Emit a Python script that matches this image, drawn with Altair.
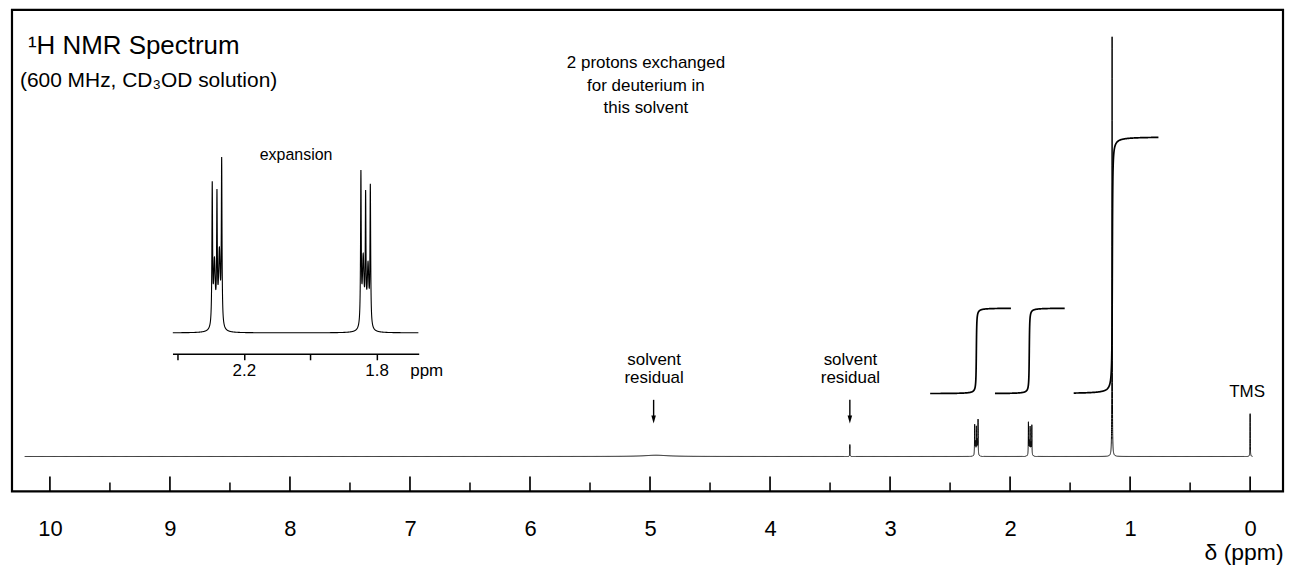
import numpy as np
import pandas as pd
import altair as alt

# ---------------- data ----------------
# peak list: position (ppm), height (relative units, 1.15 ppm singlet = 100), half-width (ppm)
peak_ppm = [2.2952, 2.2886, 2.2810, 2.2737, 2.2668,
            1.8472, 1.8403, 1.8330, 1.8257, 1.8188,
            1.150, 3.335, 0.000, 4.950]
peak_height = [7.0, 3.3, 6.2, 3.8, 8.2,
               7.6, 3.5, 6.2, 3.1, 6.95,
               100.0, 2.85, 10.2, 0.3]
peak_hwhm = [0.0012, 0.0030, 0.0012, 0.0030, 0.0012,
             0.0012, 0.0030, 0.0012, 0.0030, 0.0012,
             0.0012, 0.0012, 0.0012, 0.12]
spec_range = [10.21, -0.02]

# integral traces: region start/end (ppm), step centre (ppm), protons
int_start = [2.666, 2.126, 1.470]
int_end = [1.993, 1.545, 0.764]
int_center = [2.281, 1.840, 1.148]
int_protons = [2, 2, 6]
int_base = 14.96
int_per_H = 10.2
int_width = 0.0025

# axis ticks
major_ticks = [0, 1, 2, 3, 4, 5, 6, 7, 8, 9, 10]
minor_ticks = [0.5, 1.5, 2.5, 3.5, 4.5, 5.5, 6.5, 7.5, 8.5, 9.5]
inset_ticks = [2.4, 2.2, 2.0, 1.8]
inset_range_ppm = [2.415, 1.673]

# annotations (text, ppm, level)
left_texts = ["\u00b9H NMR Spectrum", "(600 MHz, CD\u2083OD solution)"]
left_ppm = [10.183, 10.25]
left_v = [97.86, 89.55]
left_size = [26, 21]

center_texts = ["2 protons exchanged", "for deuterium in", "this solvent",
                "solvent", "residual", "solvent", "residual", "TMS"]
center_ppm = [5.034, 5.034, 5.034, 4.966, 4.966, 3.33, 3.33, 0.025]
center_v = [93.82, 88.36, 83.14, 23.04, 18.8, 23.04, 18.8, 15.44]

expansion_text = ["expansion"]
expansion_ppm = [7.949]
expansion_v = [71.73]

arrow_ppm = [4.97, 3.335]
arrow_top = 13.5
arrow_bottom = 9.6
arrow_head = 8.8

# ---------------- build tables ----------------
pp = np.array(peak_ppm)
ph = np.array(peak_height)
pw = np.array(peak_hwhm)

grid = [np.arange(spec_range[0], spec_range[1], -0.004)]
for c in pp[pw < 0.01]:
    grid.append(np.arange(c + 0.05, c - 0.05, -0.0002))
grid.append(pp)
grid.append(np.array(spec_range))
x = np.unique(np.concatenate(grid))
x = x[(x <= spec_range[0]) & (x >= spec_range[1])][::-1]
y = np.zeros_like(x)
for c, h, w in zip(pp, ph, pw):
    y += h * w * w / ((x - c) ** 2 + w * w)
spec = pd.DataFrame({"ppm": x, "v": y, "i": np.arange(len(x))})

inset = spec[(spec.ppm <= inset_range_ppm[0]) & (spec.ppm >= inset_range_ppm[1])].copy()

rows = []
for k, (s, e, c, n) in enumerate(zip(int_start, int_end, int_center, int_protons)):
    g = np.unique(np.concatenate([np.arange(s, e, -0.002),
                                  np.arange(c + 0.04, c - 0.04, -0.0003), [s, e]]))
    g = g[(g <= s) & (g >= e)][::-1]
    val = int_base + n * int_per_H * (0.5 + np.arctan((c - g) / int_width) / np.pi)
    for a, b in zip(g, val):
        rows.append({"region": k, "ppm": a, "v": b})
integ = pd.DataFrame(rows)
integ["i"] = np.arange(len(integ))

ticks = pd.DataFrame({"ppm": major_ticks + minor_ticks,
                      "kind": ["major"] * len(major_ticks) + ["minor"] * len(minor_ticks)})
left_df = pd.DataFrame({"t": left_texts, "ppm": left_ppm, "v": left_v, "s": left_size})
center_df = pd.DataFrame({"t": center_texts, "ppm": center_ppm, "v": center_v})
exp_df = pd.DataFrame({"t": expansion_text, "ppm": expansion_ppm, "v": expansion_v})
arrows = pd.DataFrame({"ppm": arrow_ppm, "v": [arrow_top] * 2, "v2": [arrow_bottom] * 2,
                       "vh": [arrow_head] * 2})

# ---------------- scales ----------------
PLOT_W, PLOT_H = 1275, 483
xs = alt.Scale(domain=[10.316, -0.274], nice=False, zero=False)
ys = alt.Scale(domain=[-8.31, 106.41], nice=False, zero=False)
main_axis = alt.Axis(values=major_ticks, format="d", ticks=False, domain=False, grid=False,
                     labelFontSize=22, labelColor="black", labelPadding=27,
                     title="\u03b4 (ppm)", titleFontSize=23, titleFontWeight="normal",
                     titleColor="black", titleAnchor="end", titleAlign="right",
                     titlePadding=2)


def X(field="ppm"):
    return alt.X(f"{field}:Q", scale=xs, axis=main_axis)


def Y(field="v"):
    return alt.Y(f"{field}:Q", scale=ys, axis=None)


spectrum = alt.Chart(spec).mark_line(color="black", strokeWidth=1).encode(
    x=X(), y=Y(), order="i:Q")

integrals = alt.Chart(integ).mark_line(
    color="black", strokeWidth=1.7).encode(x=X(), y=Y(), detail="region:N", order="i:Q")

major_rules = alt.Chart(ticks[ticks.kind == "major"]).mark_rule(
    color="black", strokeWidth=1.7).encode(x=X(), y=alt.value(PLOT_H), y2=alt.value(PLOT_H - 15))
minor_rules = alt.Chart(ticks[ticks.kind == "minor"]).mark_rule(
    color="black", strokeWidth=1.5).encode(x=X(), y=alt.value(PLOT_H), y2=alt.value(PLOT_H - 9))

left_text = alt.Chart(left_df).mark_text(align="left", baseline="middle", color="black",
                                         font="Liberation Sans").encode(
    x=X(), y=Y(), text="t:N", size=alt.Size("s:Q", scale=None, legend=None))
center_text = alt.Chart(center_df).mark_text(align="center", baseline="middle", color="black",
                                             font="Liberation Sans", fontSize=17).encode(
    x=X(), y=Y(), text="t:N")
exp_text = alt.Chart(exp_df).mark_text(align="center", baseline="middle", color="black",
                                       font="Liberation Sans", fontSize=16).encode(
    x=X(), y=Y(), text="t:N")

arrow_shaft = alt.Chart(arrows).mark_rule(color="black", strokeWidth=1.4).encode(
    x=X(), y=Y(), y2="v2:Q")
arrow_tip = alt.Chart(arrows).mark_point(
    shape="M-0.2,-0.35L0.2,-0.35L0,0.35Z", size=520, filled=True, color="black", opacity=1
).encode(x=X(), y=Y("vh"))

main = alt.layer(spectrum, integrals, major_rules, minor_rules, left_text, center_text,
                 exp_text, arrow_shaft, arrow_tip)

# ---------------- inset ----------------
ixs = alt.Scale(domain=inset_range_ppm, range=[161, 408], nice=False, zero=False)
iys = alt.Scale(domain=[0, 8.3], range=[324, 160], nice=False, zero=False)
inset_axis = alt.Axis(orient="bottom", offset=-138, values=inset_ticks, grid=False,
                      tickSize=6, tickWidth=1.5, tickColor="black", domainColor="black",
                      domainWidth=1.5, labelFontSize=17, labelColor="black", labelPadding=3,
                      labelExpr="abs(datum.value-2.2)<0.01 || abs(datum.value-1.8)<0.01 ? format(datum.value,'.1f') : ''",
                      title=None)

inset_line = alt.Chart(inset).mark_line(color="black", strokeWidth=1.1).encode(
    x=alt.X("ppm:Q", scale=ixs, axis=inset_axis),
    y=alt.Y("v:Q", scale=iys, axis=None), order="i:Q")
inset_label = alt.Chart(pd.DataFrame({"t": ["ppm"], "ppm": [1.649], "v": [-1.95]})).mark_text(
    align="center", baseline="middle", color="black", font="Liberation Sans", fontSize=17).encode(
    x=alt.X("ppm:Q", scale=ixs, axis=inset_axis),
    y=alt.Y("v:Q", scale=iys, axis=None), text="t:N")
inset_chart = alt.layer(inset_line, inset_label)

chart = alt.layer(main, inset_chart).resolve_scale(
    x="independent", y="independent"
).properties(
    width=PLOT_W, height=PLOT_H,
    padding={"left": 4, "top": 1, "right": 4, "bottom": 79},
    autosize=alt.AutoSizeParams(type="none"),
).configure(font="Liberation Sans", background="white").configure_view(
    stroke="black", strokeWidth=2.2)

chart.save("out.html", embed_options={"renderer": "svg", "actions": False})
